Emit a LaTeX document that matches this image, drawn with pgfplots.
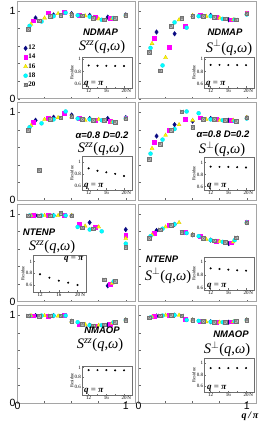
\documentclass[border=0pt]{standalone}
\usepackage{pgfplots}
\pgfplotsset{compat=1.18}
\usepackage{fontspec}
\setmainfont{Liberation Serif}
\setsansfont{Liberation Sans}

\definecolor{navyc}{RGB}{10,10,130}
\definecolor{magc}{RGB}{255,0,255}
\definecolor{yelc}{RGB}{255,255,0}
\definecolor{yeld}{RGB}{215,195,0}
\definecolor{cyac}{RGB}{0,255,255}
\definecolor{cyad}{RGB}{0,215,230}
\definecolor{grf}{RGB}{190,190,190}
\definecolor{grd}{RGB}{115,115,115}
\definecolor{framec}{RGB}{165,165,165}
\definecolor{insetc}{RGB}{110,110,110}

\pgfdeclareplotmark{sqx}{%
  \pgfpathrectangle{\pgfqpoint{-\pgfplotmarksize}{-\pgfplotmarksize}}{\pgfqpoint{2\pgfplotmarksize}{2\pgfplotmarksize}}%
  \pgfusepathqfillstroke
  \pgfpathmoveto{\pgfqpoint{-\pgfplotmarksize}{-\pgfplotmarksize}}%
  \pgfpathlineto{\pgfqpoint{\pgfplotmarksize}{\pgfplotmarksize}}%
  \pgfpathmoveto{\pgfqpoint{-\pgfplotmarksize}{\pgfplotmarksize}}%
  \pgfpathlineto{\pgfqpoint{\pgfplotmarksize}{-\pgfplotmarksize}}%
  \pgfusepathqstroke}

\pgfplotsset{
  n12/.style={only marks, mark=diamond*, mark size=2.3pt, color=navyc, mark options={draw=navyc, fill=navyc}},
  n14/.style={only marks, mark=square*, mark size=1.9pt, color=magc, mark options={draw=magc, fill=magc}},
  n16/.style={only marks, mark=triangle*, mark size=2.3pt, color=yeld, mark options={draw=yeld, fill=yelc, line width=0.3pt}},
  n18/.style={only marks, mark=*, mark size=2pt, color=cyad, mark options={draw=cyad, fill=cyac, line width=0.3pt}},
  n20/.style={only marks, mark=sqx, mark size=1.8pt, color=grd, mark options={draw=grd, fill=grf, line width=0.35pt}},
  mainax/.style={scale only axis, width=118pt, height=97.5pt,
    xmin=0, xmax=1.09, ymin=0, ymax=1.11,
    axis line style={draw=framec, line width=1pt},
    xtick={0,0.25,0.5,0.75,1}, ytick={0,0.2,0.4,0.6,0.8,1},
    xticklabels={}, yticklabels={},
    tick pos=left, tick align=inside, major tick length=2pt,
    tick style={draw=black!60, line width=0.4pt},
    ticklabel style={font=\sffamily\fontsize{10.5}{10.5}\selectfont},
    xticklabel style={inner sep=0pt, yshift=1.2pt},
    yticklabel style={inner sep=1.8pt}},
  insetax/.style={scale only axis, width=50pt, xmin=10.5, xmax=21.8,
    axis background/.style={fill=white},
    axis line style={draw=insetc, line width=0.6pt},
    xtick={12,16,20}, minor xtick={14,18}, ytick={0.6,0.8,1},
    xticklabels={12,16,20}, yticklabels={0.6,0.8,1},
    tick pos=left, tick align=inside, major tick length=1.5pt, minor tick length=1pt,
    tick style={draw=insetc, line width=0.4pt},
    ticklabel style={font=\fontsize{5}{5}\selectfont, inner sep=0.8pt},
    ylabel={Residue}, ylabel style={font=\fontsize{4.5}{4.5}\selectfont, inner sep=0.3pt},
    xlabel={N}, xlabel style={at={(axis description cs:1,0)}, anchor=north east, font=\fontsize{5}{5}\selectfont, inner sep=0.8pt}},
}
\newcommand{\resid}{\node[rotate=90, font=\sffamily\bfseries\fontsize{9.5}{9.5}\selectfont] at (axis description cs:-0.068,0.53) {Residue};}
\newcommand{\qpi}{\textbf{\textit{q}} = \textbf{\textit{π}}}
\newcommand{\insetpts}[1]{\addplot[only marks, mark=*, mark size=0.8pt, black] coordinates {#1};}

\begin{document}
\begin{tikzpicture}
\useasboundingbox (0pt,0pt) rectangle (259pt,426pt);

% ===== Row 1 left: NDMAP Szz
\begin{axis}[mainax, at={(17.5pt,327.2pt)}, yticklabels={0,,,,,1},
  legend style={at={(0.05,0.56)}, anchor=north west, draw=none, fill=none, inner sep=0pt,
    row sep=1.4pt, font=\bfseries\fontsize{7}{7}\selectfont, nodes={inner sep=0.8pt}},
  legend cell align=left,
  legend image code/.code={\draw[mark repeat=2,mark phase=2,#1] plot coordinates {(0pt,0pt) (3pt,0pt) (6pt,0pt)};}]
\addplot[n12] coordinates {(0.1667,0.92) (0.3333,0.955) (0.5,0.97) (0.6667,0.95) (0.8333,0.93) (1,0.955)};
\addplot[n14] coordinates {(0.1429,0.89) (0.2857,0.98) (0.4286,0.99) (0.5714,0.955) (0.7143,0.93) (0.8571,0.92) (1,0.955)};
\addplot[n16] coordinates {(0.125,0.85) (0.25,0.92) (0.375,0.97) (0.5,0.96) (0.625,0.945) (0.75,0.91) (0.875,0.915) (1,0.95)};
\addplot[n18] coordinates {(0.1111,0.83) (0.2222,0.88) (0.3333,0.94) (0.4444,0.98) (0.5556,0.95) (0.6667,0.935) (0.7778,0.90) (0.8889,0.92) (1,0.95)};
\addplot[n20] coordinates {(0.1,0.79) (0.2,0.89) (0.3,0.94) (0.4,0.955) (0.5,0.95) (0.6,0.945) (0.7,0.92) (0.8,0.90) (0.9,0.917) (1,0.955)};
\legend{12,14,16,18,20}
\resid
\end{axis}

% ===== Row 1 right: NDMAP Sperp
\begin{axis}[mainax, at={(138.5pt,327.2pt)}]
\addplot[n12] coordinates {(0.1667,0.76) (0.3333,0.74) (0.5,0.94) (0.6667,0.95) (0.8333,0.90) (1,0.97)};
\addplot[n14] coordinates {(0.1429,0.69) (0.2857,0.59) (0.4286,0.83) (0.5714,0.95) (0.7143,0.93) (0.8571,0.90) (1,0.97)};
\addplot[n16] coordinates {(0.125,0.63) (0.25,0.47) (0.375,0.90) (0.5,0.95) (0.625,0.94) (0.75,0.92) (0.875,0.90) (1,0.97)};
\addplot[n18] coordinates {(0.1111,0.58) (0.2222,0.38) (0.3333,0.87) (0.4444,0.81) (0.5556,0.94) (0.6667,0.94) (0.7778,0.91) (0.8889,0.90) (1,0.96)};
\addplot[n20] coordinates {(0.1,0.53) (0.2,0.32) (0.3,0.83) (0.4,0.92) (0.5,0.94) (0.6,0.94) (0.7,0.93) (0.8,0.91) (0.9,0.90) (1,0.97)};
\end{axis}

% ===== Row 2 left: alpha Szz
\begin{axis}[mainax, at={(17.5pt,225.8pt)}, yticklabels={0,,,,,1}]
\addplot[n12] coordinates {(0.1667,0.91) (0.3333,0.945) (0.5,0.97) (0.6667,0.93) (0.8333,0.93) (1,0.94)};
\addplot[n14] coordinates {(0.1429,0.89) (0.2857,0.93) (0.4286,0.99) (0.5714,0.93) (0.7143,0.91) (0.8571,0.90) (1,0.94)};
\addplot[n16] coordinates {(0.125,0.85) (0.25,0.92) (0.375,0.94) (0.5,0.95) (0.625,0.91) (0.75,0.92) (0.875,0.89) (1,0.93)};
\addplot[n18] coordinates {(0.1111,0.83) (0.2222,0.875) (0.3333,0.92) (0.4444,1.01) (0.5556,0.93) (0.6667,0.92) (0.7778,0.91) (0.8889,0.89) (1,0.93)};
\addplot[n20] coordinates {(0.1,0.80) (0.2,0.34) (0.3,0.92) (0.4,0.94) (0.5,0.95) (0.6,0.92) (0.7,0.91) (0.8,0.91) (0.9,0.89) (1,0.93)};
\resid
\end{axis}

% ===== Row 2 right: alpha Sperp
\begin{axis}[mainax, at={(138.5pt,225.8pt)}]
\addplot[n12] coordinates {(0.1667,0.73) (0.3333,0.86) (0.5,0.90) (0.6667,0.93) (0.8333,0.91) (1,0.94)};
\addplot[n14] coordinates {(0.1429,0.66) (0.2857,0.80) (0.4286,0.92) (0.5714,0.94) (0.7143,0.92) (0.8571,0.91) (1,0.94)};
\addplot[n16] coordinates {(0.125,0.59) (0.25,0.74) (0.375,0.86) (0.5,0.91) (0.625,0.92) (0.75,0.91) (0.875,0.91) (1,0.94)};
\addplot[n18] coordinates {(0.1111,0.53) (0.2222,0.69) (0.3333,0.81) (0.4444,1.01) (0.5556,0.99) (0.6667,0.92) (0.7778,0.91) (0.8889,0.90) (1,0.93)};
\addplot[n20] coordinates {(0.1,0.47) (0.2,0.64) (0.3,0.80) (0.4,1.01) (0.5,0.83) (0.6,0.92) (0.7,0.92) (0.8,0.91) (0.9,0.90) (1,0.94)};
\end{axis}

% ===== Row 3 left: NTENP Szz
\begin{axis}[mainax, at={(17.5pt,124.4pt)}, yticklabels={0,,,,,1}]
\addplot[n12] coordinates {(0.1667,0.98) (0.3333,0.98) (0.5,0.98) (0.6667,0.90) (0.8333,0.18) (1,0.82)};
\addplot[n14] coordinates {(0.1429,0.98) (0.2857,0.98) (0.4286,0.98) (0.5714,0.88) (0.7143,0.85) (0.8571,0.20) (1,0.76)};
\addplot[n16] coordinates {(0.125,0.98) (0.25,0.98) (0.375,0.98) (0.5,0.98) (0.625,0.86) (0.75,0.85) (0.875,0.21) (1,0.72)};
\addplot[n18] coordinates {(0.1111,0.98) (0.2222,0.98) (0.3333,0.98) (0.4444,0.98) (0.5556,0.85) (0.6667,0.82) (0.7778,0.80) (0.8889,0.23) (1,0.66)};
\addplot[n20] coordinates {(0.1,0.98) (0.2,0.98) (0.3,0.98) (0.4,1.01) (0.5,0.98) (0.6,0.84) (0.7,0.83) (0.8,0.25) (0.9,0.23) (1,0.62)};
\resid
\end{axis}

% ===== Row 3 right: NTENP Sperp
\begin{axis}[mainax, at={(138.5pt,124.4pt)}]
\addplot[n12] coordinates {(0.1667,0.81) (0.3333,0.88) (0.5,0.76) (0.6667,0.70) (0.8333,0.66) (1,0.90)};
\addplot[n14] coordinates {(0.1429,0.78) (0.2857,0.87) (0.4286,0.79) (0.5714,0.74) (0.7143,0.69) (0.8571,0.67) (1,0.90)};
\addplot[n16] coordinates {(0.125,0.76) (0.25,0.85) (0.375,0.90) (0.5,0.76) (0.625,0.71) (0.75,0.685) (0.875,0.68) (1,0.90)};
\addplot[n18] coordinates {(0.1111,0.745) (0.2222,0.83) (0.3333,0.88) (0.4444,0.78) (0.5556,0.745) (0.6667,0.70) (0.7778,0.68) (0.8889,0.70) (1,0.90)};
\addplot[n20] coordinates {(0.1,0.72) (0.2,0.82) (0.3,0.87) (0.4,0.79) (0.5,0.76) (0.6,0.72) (0.7,0.695) (0.8,0.675) (0.9,0.73) (1,0.90)};
\end{axis}

% ===== Row 4 left: NMAOP Szz
\begin{axis}[mainax, at={(17.5pt,23pt)}, yticklabels={0,,,,,1}, xticklabels={0,,,,1}]
\addplot[n12] coordinates {(0.1667,0.995) (0.3333,0.995) (0.5,0.93) (0.6667,0.885) (0.8333,0.89) (1,0.945)};
\addplot[n14] coordinates {(0.1429,0.995) (0.2857,0.99) (0.4286,1.0) (0.5714,0.90) (0.7143,0.88) (0.8571,0.90) (1,0.945)};
\addplot[n16] coordinates {(0.125,0.995) (0.25,0.995) (0.375,0.99) (0.5,0.93) (0.625,0.895) (0.75,0.885) (0.875,0.91) (1,0.945)};
\addplot[n18] coordinates {(0.1111,0.99) (0.2222,0.995) (0.3333,0.995) (0.4444,0.995) (0.5556,0.92) (0.6667,0.885) (0.7778,0.885) (0.8889,0.92) (1,0.945)};
\addplot[n20] coordinates {(0.1,0.995) (0.2,0.99) (0.3,0.995) (0.4,0.995) (0.5,0.934) (0.6,0.90) (0.7,0.88) (0.8,0.89) (0.9,0.92) (1,0.945)};
\resid
\end{axis}

% ===== Row 4 right: NMAOP Sperp
\begin{axis}[mainax, at={(138.5pt,23pt)}, xticklabels={0,,,,1}]
\addplot[n12] coordinates {(0.1667,0.99) (0.3333,1.0) (0.5,0.945) (0.6667,0.925) (0.8333,0.92) (1,0.945)};
\addplot[n14] coordinates {(0.1429,0.985) (0.2857,1.0) (0.4286,0.95) (0.5714,0.93) (0.7143,0.92) (0.8571,0.925) (1,0.945)};
\addplot[n16] coordinates {(0.125,0.98) (0.25,1.0) (0.375,1.0) (0.5,0.945) (0.625,0.925) (0.75,0.92) (0.875,0.925) (1,0.945)};
\addplot[n18] coordinates {(0.1111,0.975) (0.2222,0.995) (0.3333,1.0) (0.4444,0.945) (0.5556,0.935) (0.6667,0.925) (0.7778,0.92) (0.8889,0.93) (1,0.945)};
\addplot[n20] coordinates {(0.1,0.97) (0.2,0.995) (0.3,1.0) (0.4,0.995) (0.5,0.945) (0.6,0.93) (0.7,0.92) (0.8,0.92) (0.9,0.93) (1,0.945)};
\end{axis}

% ===== Insets
\begin{axis}[insetax, at={(82pt,338pt)}, height=31pt, ymin=0.536, ymax=1.03]
\insetpts{(12,0.895) (14,0.89) (16,0.89) (18,0.888) (20,0.886)}
\node[anchor=south west, inner sep=0.5pt, font=\fontsize{9}{9}\selectfont] at (axis description cs:0.03,0.0) {\qpi};
\end{axis}
\begin{axis}[insetax, at={(204pt,338pt)}, height=31pt, ymin=0.536, ymax=1.03]
\insetpts{(12,0.905) (14,0.904) (16,0.902) (18,0.902) (20,0.90)}
\node[anchor=south west, inner sep=0.5pt, font=\fontsize{9}{9}\selectfont] at (axis description cs:0.03,0.0) {\qpi};
\end{axis}
\begin{axis}[insetax, at={(82pt,236pt)}, height=34pt, ymin=0.534, ymax=1.094]
\insetpts{(12,0.89) (14,0.85) (16,0.825) (18,0.80) (20,0.765)}
\node[anchor=south west, inner sep=0.5pt, font=\fontsize{9}{9}\selectfont] at (axis description cs:0.03,0.0) {\qpi};
\end{axis}
\begin{axis}[insetax, at={(204pt,236pt)}, height=33pt, ymin=0.54, ymax=1.09]
\insetpts{(12,0.93) (14,0.925) (16,0.925) (18,0.92) (20,0.915)}
\node[anchor=south west, inner sep=0.5pt, font=\fontsize{9}{9}\selectfont] at (axis description cs:0.05,0.0) {\qpi};
\end{axis}
\begin{axis}[insetax, at={(33pt,134pt)}, width=53pt, height=37pt, ymin=0.48, ymax=1.115]
\insetpts{(12,0.784) (14,0.725) (16,0.674) (18,0.64) (20,0.60)}
\node[anchor=north east, inner sep=0.8pt, font=\fontsize{9}{9}\selectfont] at (axis description cs:0.97,0.98) {\qpi};
\end{axis}
\begin{axis}[insetax, at={(204pt,136pt)}, height=33pt, ymin=0.575, ymax=1.07]
\insetpts{(12,0.90) (14,0.89) (16,0.88) (18,0.87) (20,0.865)}
\node[anchor=south west, inner sep=0.5pt, font=\fontsize{9}{9}\selectfont] at (axis description cs:0.05,0.0) {\qpi};
\end{axis}
\begin{axis}[insetax, at={(82pt,31pt)}, height=29pt, ymin=0.43, ymax=1.03]
\insetpts{(12,0.945) (14,0.945) (16,0.945) (18,0.94) (20,0.94)}
\node[anchor=south west, inner sep=0.5pt, font=\fontsize{9}{9}\selectfont] at (axis description cs:0.03,0.0) {\qpi};
\end{axis}
\begin{axis}[insetax, at={(204pt,34pt)}, height=34pt, ymin=0.5, ymax=1.09]
\insetpts{(12,0.915) (14,0.915) (16,0.915) (18,0.915) (20,0.915)}
\node[anchor=south west, inner sep=0.5pt, font=\fontsize{9}{9}\selectfont] at (axis description cs:0.05,0.0) {\qpi};
\end{axis}

% ===== Panel labels
\tikzset{mlab/.style={inner sep=0pt, font=\sffamily\bfseries\itshape\fontsize{9.5}{9.5}\selectfont},
         slab/.style={inner sep=0pt, font=\fontsize{14.5}{14.5}\selectfont}}
\newcommand{\Szz}{\textit{S}\textsuperscript{\textit{zz}}(\textit{q},\textit{ω})}
\newcommand{\Sp}{\textit{S}\textsuperscript{$\perp$}(\textit{q},\textit{ω})}
\node[mlab] at (100.5pt,393.5pt) {NDMAP};
\node[slab] at (102pt,378.5pt) {\Szz};
\node[mlab] at (225pt,393.5pt) {NDMAP};
\node[slab] at (229pt,378.5pt) {\Sp};
\node[mlab] at (102pt,291pt) {α=0.8 D=0.2};
\node[slab] at (101pt,276.5pt) {\Szz};
\node[mlab] at (223pt,292pt) {α=0.8 D=0.2};
\node[slab] at (222pt,277pt) {\Sp};
\node[mlab] at (39pt,194pt) {NTENP};
\node[slab] at (52pt,178.5pt) {\Szz};
\node[mlab] at (162pt,167pt) {NTENP};
\node[slab] at (168pt,150.5pt) {\Sp};
\node[mlab] at (102pt,95.5pt) {NMAOP};
\node[slab] at (100pt,81pt) {\Szz};
\node[mlab] at (231pt,91.5pt) {NMAOP};
\node[slab] at (227pt,77pt) {\Sp};
\node[inner sep=0pt, font=\bfseries\itshape\fontsize{10}{10}\selectfont] at (250pt,10pt) {q\,/\,π};
\end{tikzpicture}
\end{document}
